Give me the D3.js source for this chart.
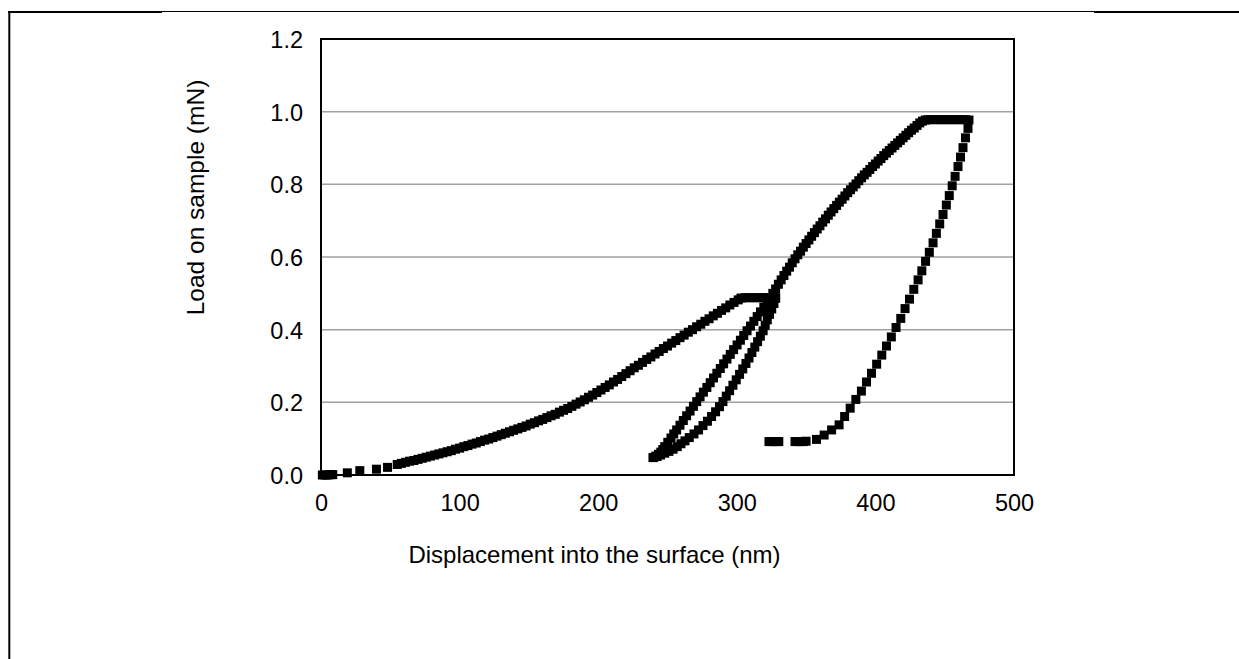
<!DOCTYPE html>
<html><head><meta charset="utf-8">
<script src="https://cdn.jsdelivr.net/npm/d3@7"></script>
<style>html,body{margin:0;padding:0;background:#fff;} svg{display:block;}</style>
</head><body>
<svg id="chart" width="1239" height="659"></svg>
<script>
// ---- data (displacement nm, load mN) ----
const xTicks = [0, 100, 200, 300, 400, 500];
const yTicks = [0, 0.2, 0.4, 0.6, 0.8, 1.0, 1.2];
const xTitle = "Displacement into the surface (nm)";
const yTitle = "Load on sample (mN)";

const loading1 = [[1,0],[3,0],[5,0],[7,0.001],[8.5,0.001],[19,0.006],[28,0.012],[40,0.016],[48,0.021],[55,0.029],[58,0.032],[61,0.035],[64,0.038],[67,0.040],[70,0.043],[73,0.046],[76,0.049],[79,0.052],[82,0.055],[85,0.058],[88,0.061],[91,0.064],[94,0.067],[97,0.071],[100,0.074],[103,0.078],[106,0.081],[109,0.085],[112,0.088],[115,0.092],[118,0.096],[121,0.099],[124,0.103],[127,0.107],[130,0.111],[133,0.115],[136,0.119],[139,0.123],[142,0.127],[145,0.131],[148,0.135],[151,0.140],[154,0.144],[157,0.149],[160,0.153],[163,0.158],[166,0.163],[169,0.167],[172,0.173],[175,0.178],[178,0.183],[181,0.189],[184,0.195],[187,0.201],[190,0.207],[193,0.214],[196,0.220],[199,0.227],[202,0.234],[205,0.241],[208,0.248],[211,0.256],[214,0.263],[217,0.271],[220,0.279],[223,0.287],[226,0.295],[229,0.302],[232,0.310],[235,0.318],[238,0.325],[241,0.333],[244,0.340],[247,0.348],[250,0.355],[253,0.363],[256,0.370],[259,0.378],[262,0.385],[265,0.393],[268,0.400],[271,0.408],[274,0.415],[277,0.423],[280,0.430],[283,0.438],[286,0.445],[289,0.453],[292,0.460],[295,0.468],[298,0.475],[301,0.482],[303,0.487]];

const hold1 = [[306,0.488],[309,0.488],[312,0.488],[315,0.488],[318,0.488],[321,0.488],[324,0.488],[327,0.488],[328,0.487]];

const unload1 = [[328,0.487],[326.8,0.472],[325.2,0.457],[323.6,0.442],[322,0.427],[320.5,0.412],[319,0.397],[317,0.382],[315,0.367],[313,0.352],[310.9,0.337],[308.8,0.322],[306.6,0.307],[304.3,0.292],[302,0.277],[299.6,0.262],[297.2,0.247],[294.8,0.232],[292.4,0.217],[290,0.202],[287.5,0.188],[284.7,0.174],[281.8,0.161],[278.8,0.148],[275.6,0.136],[272.4,0.124],[269.1,0.113],[265.7,0.103],[262.6,0.094],[259.7,0.086],[257,0.078],[254,0.071],[251,0.065],[248,0.06],[245,0.055],[242.5,0.051],[240,0.048]];

const reload1 = [[239.5,0.048],[241.5,0.052],[243.5,0.057],[245.2,0.063],[246.6,0.07],[248,0.078],[250.2,0.09],[252.5,0.102],[254.5,0.113],[256.6,0.124],[259,0.137],[261.4,0.15],[263.8,0.163],[266.3,0.176],[268.7,0.189],[271.1,0.202],[273.5,0.215],[275.9,0.228],[278.4,0.241],[280.8,0.254],[283.2,0.267],[285.6,0.28],[288.1,0.293],[290.5,0.306],[292.9,0.319],[295.3,0.332],[297.7,0.345],[300.2,0.358],[302.6,0.371],[305,0.384],[307.4,0.397],[309.9,0.41],[312.3,0.423],[314.7,0.436],[317.1,0.449],[319.5,0.462],[322,0.475],[324.2,0.487]];

const loading2 = [[326,0.500],[328,0.512],[330,0.525],[332,0.537],[334,0.549],[336,0.561],[338,0.572],[340,0.584],[342,0.595],[344,0.606],[346,0.616],[348,0.627],[350,0.637],[352,0.647],[354,0.657],[356,0.667],[358,0.677],[360,0.686],[362,0.696],[364,0.705],[366,0.715],[368,0.724],[370,0.733],[372,0.742],[374,0.751],[376,0.759],[378,0.768],[380,0.777],[382,0.785],[384,0.793],[386,0.801],[388,0.810],[390,0.818],[392,0.826],[394,0.833],[396,0.841],[398,0.849],[400,0.856],[402,0.864],[404,0.871],[406,0.879],[408,0.886],[410,0.893],[412,0.900],[414,0.907],[416,0.914],[418,0.921],[420,0.928],[422,0.935],[424,0.942],[426,0.949],[428,0.955],[430,0.962],[432,0.969],[434,0.974],[436,0.977]];

const hold2 = [[438,0.978],[441,0.978],[444,0.978],[447,0.978],[450,0.978],[453,0.978],[456,0.978],[459,0.978],[462,0.978],[465,0.978],[467.5,0.977]];

const unload2 = [[466.8,0.954],[465,0.928],[463.2,0.901],[461.4,0.875],[459.6,0.849],[457.5,0.822],[455.4,0.796],[453.3,0.769],[451.2,0.743],[448.8,0.717],[446.4,0.691],[444,0.665],[441.6,0.639],[438.9,0.613],[436.2,0.588],[433.5,0.562],[430.8,0.537],[427.7,0.511],[424.6,0.484],[421.4,0.458],[418.3,0.431],[414.9,0.406],[411.5,0.38],[408,0.355],[404.6,0.33],[400.9,0.305],[397.2,0.28],[393.6,0.256],[389.9,0.231],[385.9,0.208],[381.8,0.184],[377.8,0.161],[373.8,0.138],[368.4,0.124],[363,0.11],[357.5,0.098]];

const hold3 = [[350,0.093],[348,0.092],[346,0.092],[344,0.092],[342,0.092],[330.3,0.092],[328.5,0.092],[326.7,0.092],[325,0.092],[323.2,0.092]];

const segments = [loading1, hold1, unload1, reload1, loading2, hold2, unload2, hold3];

// ---- drawing ----
const W = 1239, H = 659;
const font = "'Liberation Sans', Arial, sans-serif";
const svg = d3.select("#chart");
svg.append("rect").attr("width", W).attr("height", H).attr("fill", "#fff");

// page frame lines
const frame = svg.append("g").attr("stroke", "#000");
frame.append("line").attr("x1", 8).attr("x2", 162).attr("y1", 12).attr("y2", 12).attr("stroke-width", 2);
frame.append("line").attr("x1", 162).attr("x2", 1094).attr("y1", 11.5).attr("y2", 11.5).attr("stroke-width", 1);
frame.append("line").attr("x1", 1094).attr("x2", 1239).attr("y1", 12).attr("y2", 12).attr("stroke-width", 2);
frame.append("line").attr("x1", 9.3).attr("x2", 9.3).attr("y1", 11).attr("y2", 659).attr("stroke-width", 2);

const x = d3.scaleLinear().domain([0, 500]).range([321, 1014]);
const y = d3.scaleLinear().domain([0, 1.2]).range([475, 39]);

// gridlines
svg.append("g").selectAll("line")
  .data(yTicks.filter(d => d > 0 && d < 1.2))
  .join("line")
  .attr("x1", x(0)).attr("x2", x(500))
  .attr("y1", d => y(d)).attr("y2", d => y(d))
  .attr("stroke", "#a0a0a0").attr("stroke-width", 1.5);

// plot border
svg.append("rect")
  .attr("x", x(0)).attr("y", y(1.2))
  .attr("width", x(500) - x(0)).attr("height", y(0) - y(1.2))
  .attr("fill", "none").attr("stroke", "#000").attr("stroke-width", 2);

// axes
const yAxis = d3.axisLeft(y).tickValues(yTicks).tickSize(0).tickPadding(18)
  .tickFormat(d3.format(".1f"));
const gy = svg.append("g").attr("transform", `translate(${x(0)},0)`).call(yAxis);
gy.select(".domain").remove();
gy.selectAll("text").attr("font-family", font).attr("font-size", 23.5)
  .attr("fill", "#000").attr("dy", "0.355em");

const xAxis = d3.axisBottom(x).tickValues(xTicks).tickSize(0).tickPadding(19.5)
  .tickFormat(d3.format("d"));
const gx = svg.append("g").attr("transform", `translate(0,${y(0)})`).call(xAxis);
gx.select(".domain").remove();
gx.selectAll("text").attr("font-family", font).attr("font-size", 23.5)
  .attr("fill", "#000").attr("dy", "0.71em");

// axis titles
svg.append("text").attr("x", 594.5).attr("y", 563)
  .attr("text-anchor", "middle").attr("font-family", font).attr("font-size", 24)
  .attr("fill", "#000").text(xTitle);
svg.append("text").attr("transform", "translate(203.5,197.5) rotate(-90)")
  .attr("text-anchor", "middle").attr("font-family", font).attr("font-size", 24.5)
  .attr("fill", "#000").text(yTitle);

// markers
const pts = segments.flat();
const s = 9;
svg.append("g").selectAll("rect")
  .data(pts).join("rect")
  .attr("x", d => x(d[0]) - s / 2).attr("y", d => y(d[1]) - s / 2)
  .attr("width", s).attr("height", s).attr("fill", "#000");
</script>
</body></html>
